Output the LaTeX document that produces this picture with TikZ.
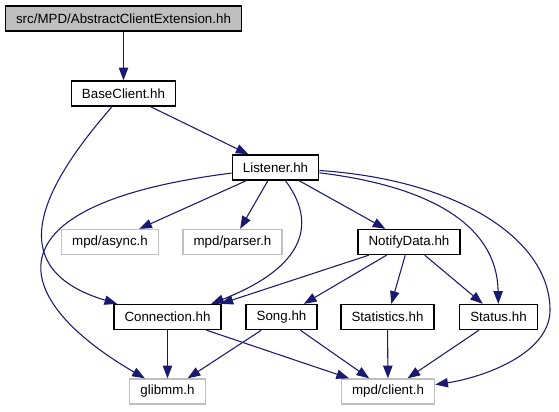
\documentclass[tikz,border=0pt]{standalone}
\usepackage{fontspec}
\setmainfont{Liberation Sans}
\usetikzlibrary{arrows.meta}
\definecolor{edgeblue}{HTML}{191970}
\definecolor{extgray}{HTML}{BFBFBF}
\tikzset{
  hfile/.style={rectangle, draw=black, fill=#1, line width=1pt,
                minimum height=18.75pt, inner xsep=8pt, inner ysep=0pt,
                font=\fontsize{10}{12}\selectfont},
  hfile/.default=white,
  extfile/.style={hfile, draw=extgray},
  arr/.style={-{Triangle[length=9.5pt, width=7pt]}, line width=0.8pt, draw=#1},
  arr/.default=edgeblue,
}

\begin{document}
\begin{tikzpicture}[x=0.75pt, y=-0.75pt]
  \useasboundingbox (0,0) rectangle (559,411);

  \node[hfile=extgray] (root) at (123.5,18.5) {src/MPD/AbstractClientExtension.hh};
  \node[hfile] (baseclient) at (123.5,93.5) {BaseClient.hh};
  \node[hfile] (listener) at (275.5,167.5) {Listener.hh};
  \node[extfile] (async) at (110,242) {mpd/async.h};
  \node[extfile] (parser) at (232.5,242) {mpd/parser.h};
  \node[hfile] (notifydata) at (409,242) {NotifyData.hh};
  \node[hfile] (connection) at (167.5,317) {Connection.hh};
  \node[hfile] (song) at (281.5,317) {Song.hh};
  \node[hfile] (statistics) at (387.5,317) {Statistics.hh};
  \node[hfile] (status) at (498.5,317) {Status.hh};
  \node[extfile] (glibmm) at (167.5,391.5) {glibmm.h};
  \node[extfile] (client) at (388,391.5) {mpd/client.h};

  \draw[arr] (root) -- (baseclient);
  \draw[arr] (baseclient) -- (listener);
  \draw[arr] (baseclient) .. controls (35,195) and (5,270) .. ([xshift=3pt]connection.north west);

  % includes of Listener.hh
  \draw[arr] (listener) -- (async);
  \draw[arr] (listener) -- (parser);
  \draw[arr] (listener) -- (notifydata);
  \draw[arr] (listener) .. controls (-20,205) and (10,300) .. (glibmm);
  \draw[arr] (listener) .. controls (315,220) and (310,265) .. ([xshift=-8pt]connection.north east);
  \draw[arr] (listener) .. controls (420,185) and (497,220) .. (status);
  \draw[arr] (listener) .. controls (460,180) and (550,240) .. (550,310)
                        .. controls (550,355) and (480,378) .. (client);

  % includes of NotifyData.hh
  \draw[arr] (notifydata) -- ([xshift=-1pt]connection.north east);
  \draw[arr] (notifydata) -- (song);
  \draw[arr] (notifydata) -- (statistics);
  \draw[arr] (notifydata) -- (status);

  \draw[arr] (connection) -- (glibmm);
  \draw[arr] (connection) -- (client);
  \draw[arr] (song) -- (glibmm);
  \draw[arr] (song) -- (client);
  \draw[arr] (statistics) -- (client);
  \draw[arr] (status) -- (client);
\end{tikzpicture}
\end{document}
